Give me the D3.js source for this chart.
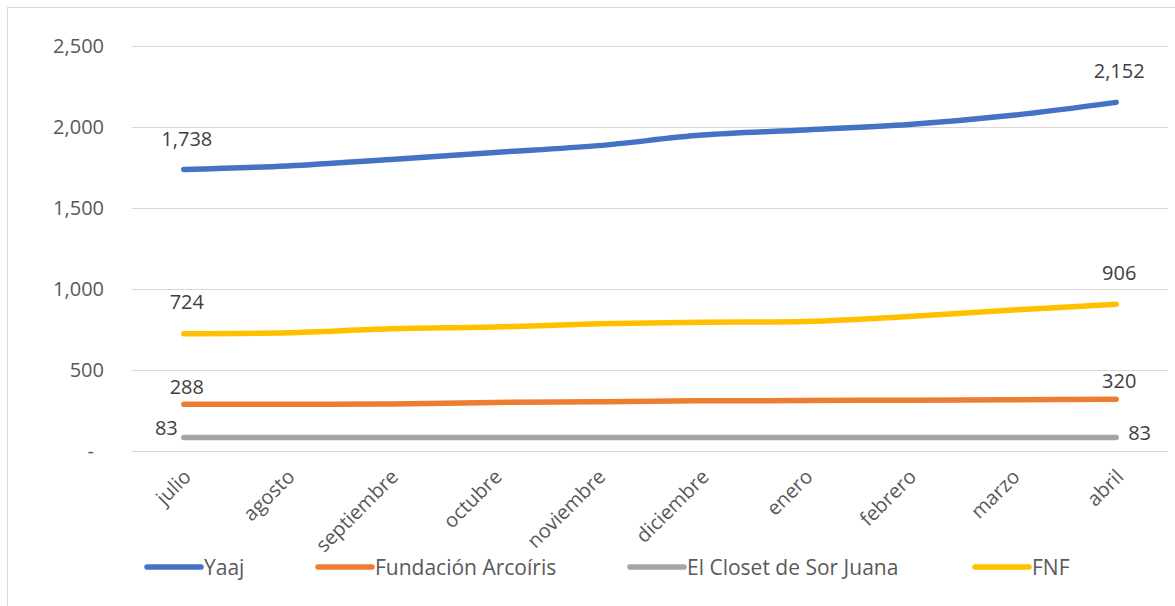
<!DOCTYPE html>
<html><head><meta charset="utf-8">
<script src="https://cdn.jsdelivr.net/npm/d3@7/dist/d3.min.js"></script>
<style>body{margin:0;background:#fff;} svg{display:block;}</style>
</head><body>
<svg id="c" width="1175" height="606"></svg>
<script>
const months = ["julio","agosto","septiembre","octubre","noviembre","diciembre","enero","febrero","marzo","abril"];
const seriesNames = ["Yaaj","Fundación Arcoíris","El Closet de Sor Juana","FNF"];
const yaaj = [1738,1760,1800,1843,1885,1950,1982,2015,2072,2152];
const arcoiris = [288,288,290,300,304,310,311,314,316,320];
const closet = [83,83,83,83,83,83,83,83,83,83];
const fnf = [724,730,755,765,785,795,800,830,870,906];
const yTicks = [0,500,1000,1500,2000,2500];
const colors = ["#4472C4","#ED7D31","#A5A5A5","#FFC000"];

const series = [
  {name: seriesNames[0], values: yaaj, color: colors[0]},
  {name: seriesNames[1], values: arcoiris, color: colors[1]},
  {name: seriesNames[2], values: closet, color: colors[2]},
  {name: seriesNames[3], values: fnf, color: colors[3]}
];
const FONT = "'Open Sans', sans-serif";
const svg = d3.select("#c");
svg.append("rect").attr("x",7.5).attr("y",7.5).attr("width",1180).attr("height",620)
  .attr("fill","#fff").attr("stroke","#d9d9d9").attr("stroke-width",1);

const x = d3.scalePoint().domain(months).range([132,1168]).padding(0.5);
const y = d3.scaleLinear().domain([0,2500]).range([451,46]);

// gridlines
const yAxis = d3.axisLeft(y).tickValues(yTicks).tickSize(-(1168-132))
  .tickFormat(d => d === 0 ? "-" : d3.format(",")(d));
const ga = svg.append("g").attr("transform","translate(132,0)").call(yAxis);
ga.select(".domain").remove();
ga.selectAll(".tick line").attr("stroke","#d9d9d9").attr("stroke-width",1.2).attr("shape-rendering","crispEdges");
ga.selectAll(".tick text").attr("x",-28).attr("fill","#595959")
  .style("font-family",FONT).style("font-size","20px")
  .attr("dx", d => d === 0 ? -10 : 0);

// x axis labels
const xa = svg.append("g").attr("transform","translate(0,451)")
  .call(d3.axisBottom(x).tickSize(0));
xa.select(".domain").remove();
xa.selectAll(".tick text").attr("fill","#595959")
  .style("font-family",FONT).style("font-size","20px")
  .attr("text-anchor","end").attr("y",0).attr("dy",0)
  .attr("transform","translate(8,27) rotate(-45)");

// lines
const line = d3.line().x((d,i)=>x(months[i])).y(d=>y(d)).curve(d3.curveCatmullRom.alpha(0.5));
svg.append("g").selectAll("path").data([series[0],series[1],series[2],series[3]]).join("path")
  .attr("d", s => line(s.values)).attr("fill","none").attr("stroke", s=>s.color)
  .attr("stroke-width",5.5).attr("stroke-linecap","round").attr("stroke-linejoin","round");

// data labels
const lab = svg.append("g").style("font-family",FONT).style("font-size","20px").attr("fill","#404040");
function addLabel(v, i, dx, dy, anchor){
  lab.append("text").attr("x", x(months[i]) + dx).attr("y", y(v) + dy)
    .attr("text-anchor", anchor).attr("dominant-baseline","central").text(d3.format(",")(v));
}
const last = months.length - 1;
addLabel(yaaj[0], 0, 3, -31, "middle");
addLabel(yaaj[last], last, 3, -32, "middle");
addLabel(fnf[0], 0, 3, -32, "middle");
addLabel(fnf[last], last, 3, -32, "middle");
addLabel(arcoiris[0], 0, 3, -18, "middle");
addLabel(arcoiris[last], last, 3, -19, "middle");
addLabel(closet[0], 0, -6, -10, "end");
addLabel(closet[last], last, 12, -5, "start");

// legend
const legX = [147, 318, 630, 975];
const leg = svg.append("g").style("font-family",FONT).style("font-size","21px").attr("fill","#595959");
series.forEach((s,i)=>{
  leg.append("line").attr("x1",legX[i]).attr("x2",legX[i]+54).attr("y1",567).attr("y2",567)
    .attr("stroke",s.color).attr("stroke-width",5.5).attr("stroke-linecap","round");
  leg.append("text").attr("x",legX[i]+57).attr("y",567).attr("dominant-baseline","central").text(s.name);
});
</script>
</body></html>
